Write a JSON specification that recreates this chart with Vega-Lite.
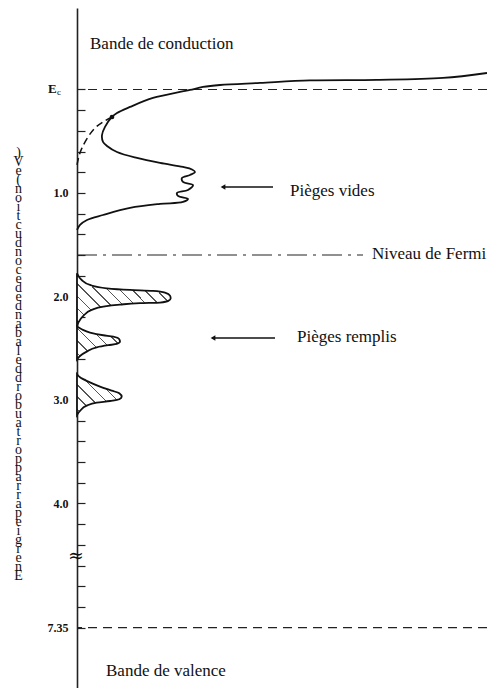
{
  "$schema": "https://vega.github.io/schema/vega-lite/v6.json",
  "width": 410,
  "height": 680,
  "autosize": {"type": "none"},
  "padding": {"left": 77, "top": 8, "right": 0, "bottom": 0},
  "background": "white",
  "config": {"view": {"stroke": null}, "font": "Liberation Serif"},
  "datasets": {
    "band": [
      {"i": 1, "x": 410, "E": -0.159},
      {"i": 2, "x": 366, "E": -0.111},
      {"i": 3, "x": 300, "E": -0.092},
      {"i": 4, "x": 233, "E": -0.087},
      {"i": 5, "x": 183, "E": -0.063},
      {"i": 6, "x": 143, "E": -0.043},
      {"i": 7, "x": 126, "E": -0.024},
      {"i": 8, "x": 113, "E": 0.005},
      {"i": 9, "x": 103, "E": 0.024},
      {"i": 10, "x": 76, "E": 0.082},
      {"i": 11, "x": 53, "E": 0.169},
      {"i": 12, "x": 40, "E": 0.227},
      {"i": 13, "x": 35, "E": 0.266},
      {"i": 14, "x": 28, "E": 0.362},
      {"i": 15, "x": 25, "E": 0.44},
      {"i": 16, "x": 26, "E": 0.507},
      {"i": 17, "x": 30, "E": 0.546},
      {"i": 18, "x": 40, "E": 0.604},
      {"i": 19, "x": 60, "E": 0.662},
      {"i": 20, "x": 83, "E": 0.71},
      {"i": 21, "x": 106, "E": 0.749},
      {"i": 22, "x": 115, "E": 0.773},
      {"i": 23, "x": 118, "E": 0.797},
      {"i": 24, "x": 113, "E": 0.826},
      {"i": 25, "x": 105, "E": 0.855},
      {"i": 26, "x": 106, "E": 0.894},
      {"i": 27, "x": 116, "E": 0.923},
      {"i": 28, "x": 111, "E": 0.971},
      {"i": 29, "x": 100, "E": 1.0},
      {"i": 30, "x": 101, "E": 1.029},
      {"i": 31, "x": 111, "E": 1.058},
      {"i": 32, "x": 106, "E": 1.087},
      {"i": 33, "x": 83, "E": 1.106},
      {"i": 34, "x": 53, "E": 1.145},
      {"i": 35, "x": 26, "E": 1.213},
      {"i": 36, "x": 10, "E": 1.261},
      {"i": 37, "x": 3, "E": 1.309},
      {"i": 38, "x": 0, "E": 1.357}
    ],
    "ext": [
      {"i": 1, "x": 35, "E": 0.266},
      {"i": 2, "x": 26, "E": 0.314},
      {"i": 3, "x": 18, "E": 0.372},
      {"i": 4, "x": 11, "E": 0.459},
      {"i": 5, "x": 5, "E": 0.565},
      {"i": 6, "x": 2, "E": 0.643},
      {"i": 7, "x": 0, "E": 0.729}
    ],
    "traps": [
      {"peak": 1, "x": 0, "E": 1.776},
      {"peak": 1, "x": 4.7, "E": 1.841},
      {"peak": 1, "x": 13, "E": 1.889},
      {"peak": 1, "x": 29.7, "E": 1.921},
      {"peak": 1, "x": 53, "E": 1.937},
      {"peak": 1, "x": 76, "E": 1.947},
      {"peak": 1, "x": 88, "E": 1.963},
      {"peak": 1, "x": 93, "E": 1.992},
      {"peak": 1, "x": 93.7, "E": 2.017},
      {"peak": 1, "x": 91.3, "E": 2.043},
      {"peak": 1, "x": 83, "E": 2.059},
      {"peak": 1, "x": 63, "E": 2.065},
      {"peak": 1, "x": 43, "E": 2.079},
      {"peak": 1, "x": 26.3, "E": 2.098},
      {"peak": 1, "x": 14.7, "E": 2.13},
      {"peak": 1, "x": 6.3, "E": 2.188},
      {"peak": 1, "x": 1.3, "E": 2.253},
      {"peak": 1, "x": 0, "E": 2.291},
      {"peak": 2, "x": 0, "E": 2.291},
      {"peak": 2, "x": 4.7, "E": 2.317},
      {"peak": 2, "x": 13, "E": 2.349},
      {"peak": 2, "x": 26.3, "E": 2.375},
      {"peak": 2, "x": 36.3, "E": 2.388},
      {"peak": 2, "x": 42.3, "E": 2.413},
      {"peak": 2, "x": 43, "E": 2.436},
      {"peak": 2, "x": 39.7, "E": 2.459},
      {"peak": 2, "x": 31.3, "E": 2.471},
      {"peak": 2, "x": 19.7, "E": 2.491},
      {"peak": 2, "x": 9.7, "E": 2.533},
      {"peak": 2, "x": 3, "E": 2.575},
      {"peak": 2, "x": 0, "E": 2.607},
      {"peak": 3, "x": 0, "E": 2.752},
      {"peak": 3, "x": 3, "E": 2.781},
      {"peak": 3, "x": 11.3, "E": 2.823},
      {"peak": 3, "x": 23, "E": 2.871},
      {"peak": 3, "x": 34.7, "E": 2.91},
      {"peak": 3, "x": 42.3, "E": 2.935},
      {"peak": 3, "x": 44.7, "E": 2.968},
      {"peak": 3, "x": 42.3, "E": 2.993},
      {"peak": 3, "x": 33, "E": 3.01},
      {"peak": 3, "x": 19.7, "E": 3.026},
      {"peak": 3, "x": 9.7, "E": 3.055},
      {"peak": 3, "x": 3, "E": 3.106},
      {"peak": 3, "x": 0, "E": 3.145}
    ]
  },
  "layer": [
    {
      "data": {"name": "traps"},
      "transform": [{"filter": "datum.peak == 1"}],
      "mark": {
        "type": "area", "orient": "horizontal", "interpolate": "monotone",
        "stroke": "#111", "strokeWidth": 1.8,
        "fill": {"gradient": "linear", "x1": 0, "y1": 1, "x2": 1.1866, "y2": 0.331, "stops": [
          {"offset": 0, "color": "#ffffff"},
          {"offset": 0.0367, "color": "#ffffff"}, {"offset": 0.0367, "color": "#555555"}, {"offset": 0.0467, "color": "#555555"}, {"offset": 0.0467, "color": "#ffffff"},
          {"offset": 0.12, "color": "#ffffff"}, {"offset": 0.12, "color": "#555555"}, {"offset": 0.13, "color": "#555555"}, {"offset": 0.13, "color": "#ffffff"},
          {"offset": 0.2033, "color": "#ffffff"}, {"offset": 0.2033, "color": "#555555"}, {"offset": 0.2133, "color": "#555555"}, {"offset": 0.2133, "color": "#ffffff"},
          {"offset": 0.2867, "color": "#ffffff"}, {"offset": 0.2867, "color": "#555555"}, {"offset": 0.2967, "color": "#555555"}, {"offset": 0.2967, "color": "#ffffff"},
          {"offset": 0.37, "color": "#ffffff"}, {"offset": 0.37, "color": "#555555"}, {"offset": 0.38, "color": "#555555"}, {"offset": 0.38, "color": "#ffffff"},
          {"offset": 0.4533, "color": "#ffffff"}, {"offset": 0.4533, "color": "#555555"}, {"offset": 0.4633, "color": "#555555"}, {"offset": 0.4633, "color": "#ffffff"},
          {"offset": 0.5367, "color": "#ffffff"}, {"offset": 0.5367, "color": "#555555"}, {"offset": 0.5467, "color": "#555555"}, {"offset": 0.5467, "color": "#ffffff"},
          {"offset": 0.62, "color": "#ffffff"}, {"offset": 0.62, "color": "#555555"}, {"offset": 0.63, "color": "#555555"}, {"offset": 0.63, "color": "#ffffff"},
          {"offset": 0.7033, "color": "#ffffff"}, {"offset": 0.7033, "color": "#555555"}, {"offset": 0.7133, "color": "#555555"}, {"offset": 0.7133, "color": "#ffffff"},
          {"offset": 0.7867, "color": "#ffffff"}, {"offset": 0.7867, "color": "#555555"}, {"offset": 0.7967, "color": "#555555"}, {"offset": 0.7967, "color": "#ffffff"},
          {"offset": 0.87, "color": "#ffffff"}, {"offset": 0.87, "color": "#555555"}, {"offset": 0.88, "color": "#555555"}, {"offset": 0.88, "color": "#ffffff"},
          {"offset": 0.9533, "color": "#ffffff"}, {"offset": 0.9533, "color": "#555555"}, {"offset": 0.9633, "color": "#555555"}, {"offset": 0.9633, "color": "#ffffff"},
          {"offset": 1, "color": "#ffffff"}
        ]}
      },
      "encoding": {
        "y": {
          "field": "E", "type": "quantitative",
          "scale": {"domain": [-0.787, 4.5, 6.65, 7.933], "range": [0, 547.2, 547.2, 680], "zero": false, "nice": false},
          "axis": {
            "values": [0, 0.2, 0.4, 0.6, 0.8, 1, 1.2, 1.4, 1.6, 1.8, 2, 2.2, 2.4, 2.6, 2.8, 3, 3.2, 3.4, 3.6, 3.8, 4, 4.2, 4.4, 6.75, 6.95, 7.15, 7.35],
            "tickCount": 200,
            "labelExpr": "datum.value == 1 ? '1.0' : datum.value == 2 ? '2.0' : datum.value == 3 ? '3.0' : datum.value == 4 ? '4.0' : datum.value == 7.35 ? '7.35' : ''",
            "grid": false,
            "tickSize": -8, "tickColor": "#222", "tickWidth": 1.2,
            "domainColor": "#222", "domainWidth": 1.6,
            "labelPadding": 17, "labelFont": "Liberation Serif", "labelFontWeight": "bold", "labelFontSize": 12, "labelColor": "#111",
            "labelAngle": 0, "labelAlign": "right", "labelBaseline": "middle", "labelOverlap": false, "labelFlush": false,
            "title": [")", "V", "e", "(", "n", "o", "i", "t", "c", "u", "d", "n", "o", "c", "e", "d", "e", "d", "n", "a", "b", "a", "l", "e", "d", "d", "r", "o", "b", "u", "a", "t", "r", "o", "p", "p", "a", "r", "r", "a", "p", "e", "i", "g", "r", "e", "n", "E"],
            "titleAngle": 0, "titleAlign": "center", "titleBaseline": "top",
            "titleX": -59, "titleY": 137,
            "titleFont": "Liberation Serif", "titleFontSize": 14, "titleFontWeight": "normal", "titleColor": "#111", "titleLineHeight": 9
          }
        },
        "x": {"field": "x", "type": "quantitative", "stack": null, "scale": {"domain": [0, 410], "nice": false}, "axis": null}
      }
    },
    {
      "data": {"name": "traps"},
      "transform": [{"filter": "datum.peak == 2"}],
      "mark": {
        "type": "area", "orient": "horizontal", "interpolate": "monotone",
        "stroke": "#111", "strokeWidth": 1.8,
        "fill": {"gradient": "linear", "x1": 0, "y1": 1, "x2": 1.112, "y2": 0.146, "stops": [
          {"offset": 0, "color": "#ffffff"},
          {"offset": 0.0738, "color": "#ffffff"}, {"offset": 0.0738, "color": "#555555"}, {"offset": 0.0928, "color": "#555555"}, {"offset": 0.0928, "color": "#ffffff"},
          {"offset": 0.2405, "color": "#ffffff"}, {"offset": 0.2405, "color": "#555555"}, {"offset": 0.2595, "color": "#555555"}, {"offset": 0.2595, "color": "#ffffff"},
          {"offset": 0.4072, "color": "#ffffff"}, {"offset": 0.4072, "color": "#555555"}, {"offset": 0.4262, "color": "#555555"}, {"offset": 0.4262, "color": "#ffffff"},
          {"offset": 0.5738, "color": "#ffffff"}, {"offset": 0.5738, "color": "#555555"}, {"offset": 0.5928, "color": "#555555"}, {"offset": 0.5928, "color": "#ffffff"},
          {"offset": 0.7405, "color": "#ffffff"}, {"offset": 0.7405, "color": "#555555"}, {"offset": 0.7595, "color": "#555555"}, {"offset": 0.7595, "color": "#ffffff"},
          {"offset": 0.9072, "color": "#ffffff"}, {"offset": 0.9072, "color": "#555555"}, {"offset": 0.9262, "color": "#555555"}, {"offset": 0.9262, "color": "#ffffff"},
          {"offset": 1, "color": "#ffffff"}
        ]}
      },
      "encoding": {
        "y": {"field": "E", "type": "quantitative"},
        "x": {"field": "x", "type": "quantitative", "stack": null}
      }
    },
    {
      "data": {"name": "traps"},
      "transform": [{"filter": "datum.peak == 3"}],
      "mark": {
        "type": "area", "orient": "horizontal", "interpolate": "monotone",
        "stroke": "#111", "strokeWidth": 1.8,
        "fill": {"gradient": "linear", "x1": 0, "y1": 1, "x2": 1.044, "y2": 0.049, "stops": [
          {"offset": 0, "color": "#ffffff"},
          {"offset": 0.0634, "color": "#ffffff"}, {"offset": 0.0634, "color": "#555555"}, {"offset": 0.0794, "color": "#555555"}, {"offset": 0.0794, "color": "#ffffff"},
          {"offset": 0.2063, "color": "#ffffff"}, {"offset": 0.2063, "color": "#555555"}, {"offset": 0.2223, "color": "#555555"}, {"offset": 0.2223, "color": "#ffffff"},
          {"offset": 0.3491, "color": "#ffffff"}, {"offset": 0.3491, "color": "#555555"}, {"offset": 0.3651, "color": "#555555"}, {"offset": 0.3651, "color": "#ffffff"},
          {"offset": 0.492, "color": "#ffffff"}, {"offset": 0.492, "color": "#555555"}, {"offset": 0.508, "color": "#555555"}, {"offset": 0.508, "color": "#ffffff"},
          {"offset": 0.6349, "color": "#ffffff"}, {"offset": 0.6349, "color": "#555555"}, {"offset": 0.6509, "color": "#555555"}, {"offset": 0.6509, "color": "#ffffff"},
          {"offset": 0.7777, "color": "#ffffff"}, {"offset": 0.7777, "color": "#555555"}, {"offset": 0.7937, "color": "#555555"}, {"offset": 0.7937, "color": "#ffffff"},
          {"offset": 0.9206, "color": "#ffffff"}, {"offset": 0.9206, "color": "#555555"}, {"offset": 0.9366, "color": "#555555"}, {"offset": 0.9366, "color": "#ffffff"},
          {"offset": 1, "color": "#ffffff"}
        ]}
      },
      "encoding": {
        "y": {"field": "E", "type": "quantitative"},
        "x": {"field": "x", "type": "quantitative", "stack": null}
      }
    },
    {
      "data": {"values": [{}]},
      "mark": {"type": "rule", "strokeDash": [9, 6], "strokeWidth": 1.1, "color": "#222"},
      "encoding": {"y": {"datum": 0, "type": "quantitative"}}
    },
    {
      "data": {"values": [{}]},
      "mark": {"type": "rule", "strokeDash": [9, 6], "strokeWidth": 1.1, "color": "#222"},
      "encoding": {"y": {"datum": 7.35, "type": "quantitative"}}
    },
    {
      "data": {"values": [{}]},
      "mark": {"type": "rule", "strokeDash": [20, 6, 3, 6], "strokeWidth": 1.1, "color": "#222"},
      "encoding": {"y": {"datum": 1.6, "type": "quantitative"}, "x": {"datum": 0, "type": "quantitative"}, "x2": {"datum": 286}}
    },
    {
      "data": {"name": "band"},
      "mark": {"type": "line", "interpolate": "catmull-rom", "color": "#111", "strokeWidth": 1.8},
      "encoding": {
        "y": {"field": "E", "type": "quantitative"},
        "x": {"field": "x", "type": "quantitative"},
        "order": {"field": "i"}
      }
    },
    {
      "data": {"name": "ext"},
      "mark": {"type": "line", "interpolate": "catmull-rom", "color": "#111", "strokeWidth": 1.5, "strokeDash": [7, 4]},
      "encoding": {
        "y": {"field": "E", "type": "quantitative"},
        "x": {"field": "x", "type": "quantitative"},
        "order": {"field": "i"}
      }
    },
    {
      "data": {"values": [{}]},
      "mark": {"type": "point", "filled": true, "color": "#111", "size": 22, "opacity": 1},
      "encoding": {"y": {"datum": 0.266, "type": "quantitative"}, "x": {"datum": 35, "type": "quantitative"}}
    },
    {
      "data": {"values": [{}]},
      "mark": {"type": "rule", "strokeWidth": 1.4, "color": "#111"},
      "encoding": {"y": {"datum": 0.942, "type": "quantitative"}, "x": {"datum": 145, "type": "quantitative"}, "x2": {"datum": 196}}
    },
    {
      "data": {"values": [{}]},
      "mark": {"type": "point", "shape": "triangle-left", "filled": true, "color": "#111", "size": 30, "opacity": 1},
      "encoding": {"y": {"datum": 0.942, "type": "quantitative"}, "x": {"datum": 146, "type": "quantitative"}}
    },
    {
      "data": {"values": [{}]},
      "mark": {"type": "rule", "strokeWidth": 1.4, "color": "#111"},
      "encoding": {"y": {"datum": 2.401, "type": "quantitative"}, "x": {"datum": 135, "type": "quantitative"}, "x2": {"datum": 198}}
    },
    {
      "data": {"values": [{}]},
      "mark": {"type": "point", "shape": "triangle-left", "filled": true, "color": "#111", "size": 30, "opacity": 1},
      "encoding": {"y": {"datum": 2.401, "type": "quantitative"}, "x": {"datum": 136, "type": "quantitative"}}
    },
    {
      "data": {"values": [{}]},
      "mark": {"type": "text", "text": "Bande de conduction", "align": "left", "baseline": "alphabetic", "font": "Liberation Serif", "fontSize": 17, "color": "#111"},
      "encoding": {"y": {"datum": -0.391, "type": "quantitative"}, "x": {"datum": 13, "type": "quantitative"}}
    },
    {
      "data": {"values": [{}]},
      "mark": {"type": "text", "text": "Pièges vides", "align": "left", "baseline": "alphabetic", "font": "Liberation Serif", "fontSize": 17, "color": "#111"},
      "encoding": {"y": {"datum": 1.029, "type": "quantitative"}, "x": {"datum": 213, "type": "quantitative"}}
    },
    {
      "data": {"values": [{}]},
      "mark": {"type": "text", "text": "Niveau de Fermi", "align": "left", "baseline": "alphabetic", "font": "Liberation Serif", "fontSize": 17, "color": "#111"},
      "encoding": {"y": {"datum": 1.638, "type": "quantitative"}, "x": {"datum": 295, "type": "quantitative"}}
    },
    {
      "data": {"values": [{}]},
      "mark": {"type": "text", "text": "Pièges remplis", "align": "left", "baseline": "alphabetic", "font": "Liberation Serif", "fontSize": 17, "color": "#111"},
      "encoding": {"y": {"datum": 2.44, "type": "quantitative"}, "x": {"datum": 220, "type": "quantitative"}}
    },
    {
      "data": {"values": [{}]},
      "mark": {"type": "text", "text": "Bande de valence", "align": "left", "baseline": "alphabetic", "font": "Liberation Serif", "fontSize": 17, "color": "#111"},
      "encoding": {"y": {"datum": 7.814, "type": "quantitative"}, "x": {"datum": 29, "type": "quantitative"}}
    },
    {
      "data": {"values": [{}]},
      "mark": {"type": "text", "text": "E", "align": "left", "baseline": "middle", "dx": -29, "font": "Liberation Serif", "fontWeight": "bold", "fontSize": 13, "color": "#111"},
      "encoding": {"y": {"datum": 0, "type": "quantitative"}, "x": {"datum": 0, "type": "quantitative"}}
    },
    {
      "data": {"values": [{}]},
      "mark": {"type": "text", "text": "c", "align": "left", "baseline": "middle", "dx": -20, "dy": 3, "font": "Liberation Serif", "fontSize": 9, "color": "#111"},
      "encoding": {"y": {"datum": 0, "type": "quantitative"}, "x": {"datum": 0, "type": "quantitative"}}
    },
    {
      "data": {"values": [{}]},
      "mark": {"type": "text", "text": "≈", "align": "center", "baseline": "middle", "dx": -1, "dy": 1, "font": "DejaVu Serif", "fontSize": 19, "color": "#111"},
      "encoding": {"y": {"datum": 4.5, "type": "quantitative"}, "x": {"datum": 0, "type": "quantitative"}}
    }
  ]
}
